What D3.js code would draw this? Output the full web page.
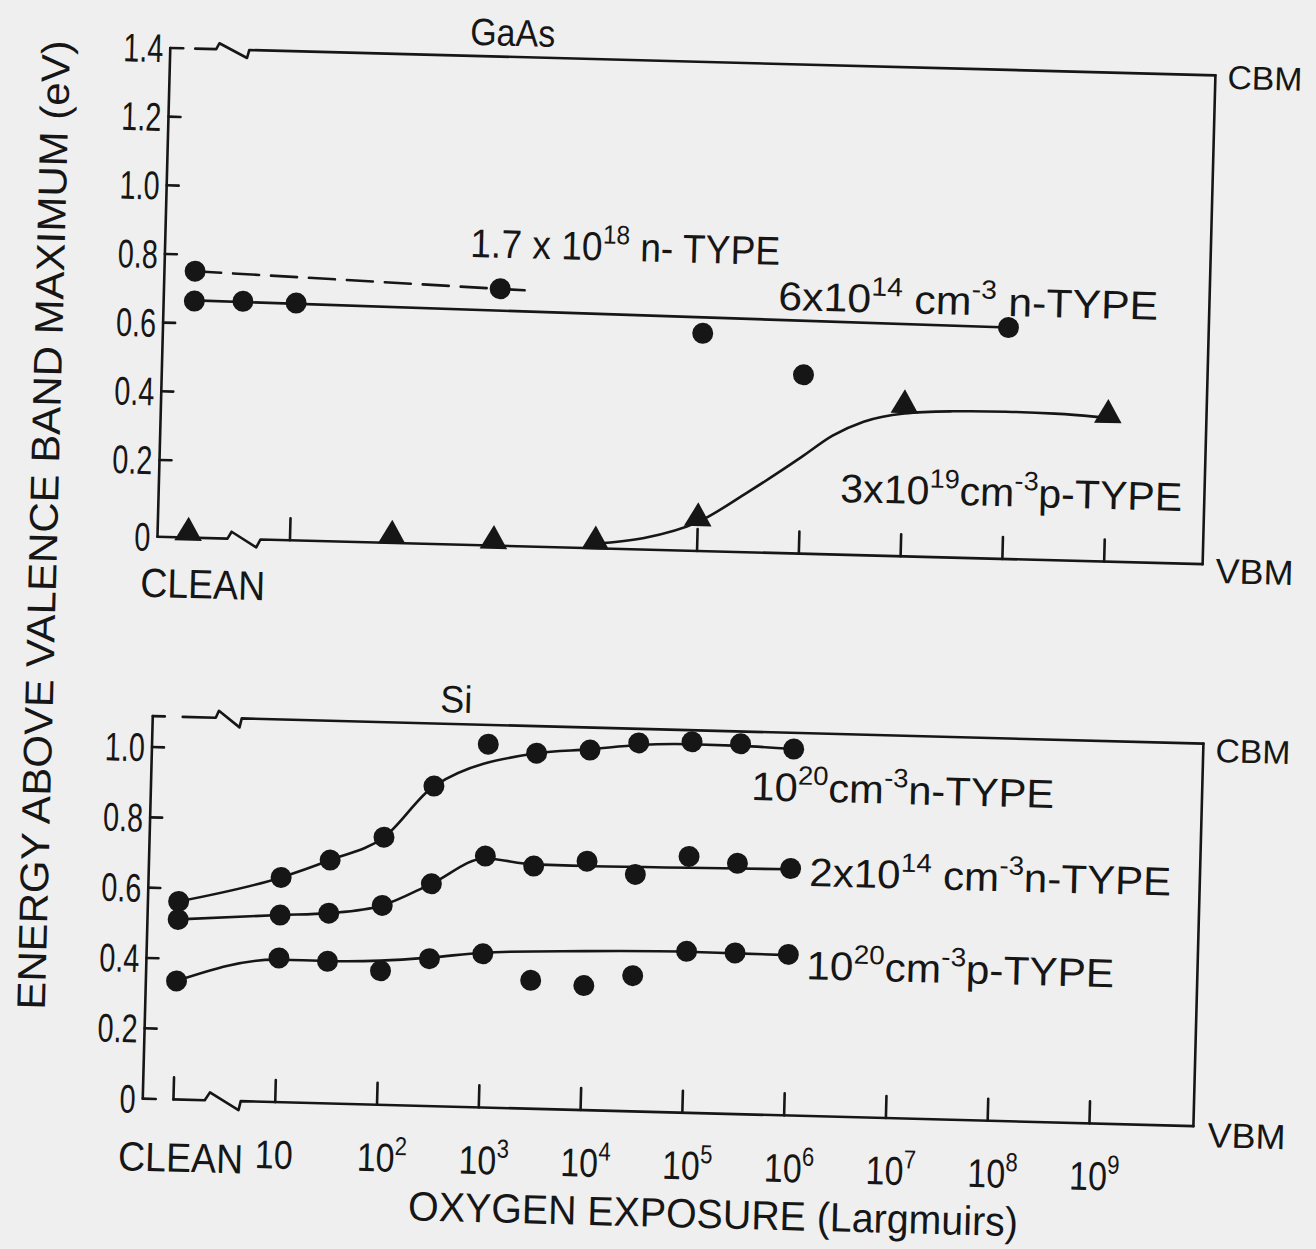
<!DOCTYPE html>
<html><head><meta charset="utf-8">
<script src="https://cdn.jsdelivr.net/npm/d3@7"></script>
<style>html,body{margin:0;padding:0;background:#efefef;} svg{display:block} text{white-space:pre}</style>
</head><body>
<svg id="chart" width="1316" height="1249"></svg>
<script>
// ================= DATA =================
const CLEAN = 1; // the clean surface is plotted where 1 L would sit on the log exposure axis

// x axis (oxygen exposure, Langmuirs)
const xTickExposures = [10, 1e2, 1e3, 1e4, 1e5, 1e6, 1e7, 1e8, 1e9];
const xTickExponents = ["", "2", "3", "4", "5", "6", "7", "8", "9"];
const gaasTickExposures = [10, 1e5, 1e6, 1e7, 1e8, 1e9];

// y axes (eV)
const gaasYTicks = [0, 0.2, 0.4, 0.6, 0.8, 1.0, 1.2, 1.4];
const gaasYTickLabels = ["0", "0.2", "0.4", "0.6", "0.8", "1.0", "1.2", "1.4"];
const siYTicks = [0, 0.2, 0.4, 0.6, 0.8, 1.0];
const siYTickLabels = ["0", "0.2", "0.4", "0.6", "0.8", "1.0"];

// ---- GaAs ----
const gaasN18Exposure = [CLEAN, 1e3];
const gaasN18Energy = [0.752, 0.724];
const gaasN18LineExposure = [CLEAN, 2e3];
const gaasN18LineEnergy = [0.752, 0.721];

const gaasN14Exposure = [CLEAN, 3, 10, 1e5, 1e6, 1e8];
const gaasN14Energy = [0.665, 0.668, 0.667, 0.610, 0.497, 0.650];
const gaasN14LineExposure = [CLEAN, 1e8];
const gaasN14LineEnergy = [0.667, 0.650];

const gaasP19Exposure = [CLEAN, 1e2, 1e3, 1e4, 1e5, 1e7, 1e9];
const gaasP19Energy = [0.013, 0.019, 0.012, 0.018, 0.085, 0.416, 0.403];
const gaasP19CurveExposure = [1e4, 3e4, 1e5, 3e5, 1e6, 2e6, 4e6, 1e7, 3e7, 1e8, 3e8, 1e9];
const gaasP19CurveEnergy = [0.012, 0.03, 0.075, 0.155, 0.257, 0.322, 0.365, 0.392, 0.402, 0.405, 0.403, 0.395];

// ---- Si ----
const siExposure = [CLEAN, 10, 30, 100, 300, 1e3, 3e3, 1e4, 3e4, 1e5, 3e5, 1e6];
const siN20Energy = [0.563, 0.639, 0.692, 0.761, 0.910, 1.033, 1.011, 1.024, 1.048, 1.055, 1.053, 1.042];
const siN20CurveExposure = [CLEAN, 10, 30, 100, 300, 3e3, 1e4, 3e4, 1e5, 3e5, 1e6];
const siN20CurveEnergy = [0.563, 0.639, 0.692, 0.761, 0.910, 1.011, 1.026, 1.042, 1.048, 1.047, 1.042];

const siN14Energy = [0.512, 0.532, 0.541, 0.567, 0.632, 0.715, 0.690, 0.708, 0.674, 0.729, 0.713, 0.702];
const siN14CurveExposure = [CLEAN, 10, 30, 100, 300, 1e3, 3e3, 1e4, 1e5, 1e6];
const siN14CurveEnergy = [0.512, 0.532, 0.541, 0.567, 0.632, 0.708, 0.695, 0.694, 0.697, 0.700];

const siP20Exposure = [CLEAN, 10, 30, 100, 300, 1e3, 3e3, 1e4, 3e4, 1e5, 3e5, 1e6];
const siP20Energy = [0.337, 0.410, 0.404, 0.381, 0.419, 0.437, 0.365, 0.354, 0.386, 0.459, 0.458, 0.458];
const siP20CurveExposure = [CLEAN, 10, 30, 100, 300, 1e3, 1e4, 1e5, 3e5, 1e6];
const siP20CurveEnergy = [0.337, 0.405, 0.405, 0.410, 0.422, 0.440, 0.452, 0.458, 0.457, 0.456];

// labels ([text, superscript?])
const gaasTitle = "GaAs";
const siTitle = "Si";
const gaasN18Label = [["1.7 x 10", 0], ["18", 1], [" n- TYPE", 0]];
const gaasN14Label = [["6x10", 0], ["14", 1], [" cm", 0], ["-3", 1], [" n-TYPE", 0]];
const gaasP19Label = [["3x10", 0], ["19", 1], ["cm", 0], ["-3", 1], ["p-TYPE", 0]];
const siN20Label = [["10", 0], ["20", 1], ["cm", 0], ["-3", 1], ["n-TYPE", 0]];
const siN14Label = [["2x10", 0], ["14", 1], [" cm", 0], ["-3", 1], ["n-TYPE", 0]];
const siP20Label = [["10", 0], ["20", 1], ["cm", 0], ["-3", 1], ["p-TYPE", 0]];
const xTitle = "OXYGEN EXPOSURE (Largmuirs)";
const yTitle = "ENERGY ABOVE VALENCE BAND MAXIMUM (eV)";

// ================= DRAWING =================
const INK = "#161616";
const FONT = "'Liberation Sans', Arial, sans-serif";
const svg = d3.select("#chart");
svg.append("rect").attr("width", 1316).attr("height", 1249).attr("fill", "#efefef");
// the scanned figure is slightly rotated
const root = svg.append("g").attr("transform", "rotate(1.5,680,600)");

const x = d3.scaleLog().domain([CLEAN, 1e9]).range([186.7, 1103]);
const yG = d3.scaleLinear().domain([0, 0.2, 1.4]).range([550.5, 473.6, 61.5]);
const yS = d3.scaleLinear().domain([0, 1]).range([1112.5, 760.8]);
const SI_TOP = 1.088;
const AXL_G = 156, RIGHT_G = 1201.5, AXL_S = 156, RIGHT_S = 1207;

const ink = (sel, w) => sel.attr("fill", "none").attr("stroke", INK).attr("stroke-width", w || 2.6)
  .attr("stroke-linejoin", "round").attr("stroke-linecap", "round");

function hline(g, x1, x2, yv) { ink(g.append("line").attr("x1", x1).attr("x2", x2).attr("y1", yv).attr("y2", yv)); }
function vline(g, xv, y1, y2) { ink(g.append("line").attr("x1", xv).attr("x2", xv).attr("y1", y1).attr("y2", y2)); }
// horizontal line with an axis-break zig-zag
function brokenLine(g, x1, xb, x2, yv, glyph) {
  const pts = [[x1, yv], [xb, yv]].concat(glyph.map(([dx, dy]) => [xb + dx, yv + dy])).concat([[x2, yv]]);
  ink(g.append("path").attr("d", d3.line()(pts)));
}

function addText(parent, px, py, parts, size, width, opts) {
  opts = opts || {};
  const g = parent.append("g").attr("transform", `translate(${px},${py})` + (opts.rotate ? ` rotate(${opts.rotate})` : ""));
  const t = g.append("text").attr("font-family", FONT).attr("font-size", size).attr("fill", INK)
    .attr("text-anchor", opts.anchor || "start");
  if (typeof parts === "string") parts = [[parts, 0]];
  const rise = size * 0.42;
  let prevSup = false;
  parts.forEach(([s, sup]) => {
    const ts = t.append("tspan").text(s);
    if (sup) { ts.attr("font-size", size * 0.66); if (!prevSup) ts.attr("dy", -rise); }
    else if (prevSup) ts.attr("dy", rise);
    prevSup = !!sup;
  });
  if (opts.dy) t.attr("dy", opts.dy);
  if (width) {
    const w = t.node().getBBox().width;
    t.attr("transform", `scale(${width / w},1)`);
  } else if (opts.sx) {
    t.attr("transform", `scale(${opts.sx},1)`);
  }
  return t;
}

// ---------- GaAs panel ----------
const gG = root.append("g");
vline(gG, AXL_G, yG(1.4), yG(0));
hline(gG, AXL_G, AXL_G + 13, yG(1.4));
brokenLine(gG, 181, 202, RIGHT_G, yG(1.4), [[3, -6], [31, 8], [33, 0]]);
brokenLine(gG, AXL_G, 226, RIGHT_G, yG(0), [[4, -7], [29, 8], [33, 0]]);
vline(gG, RIGHT_G, yG(1.4), yG(0));
gaasYTicks.filter(v => v > 0 && v < 1.4).forEach(v => hline(gG, AXL_G, AXL_G + 12, yG(v)));
gaasTickExposures.forEach(e => vline(gG, x(e), yG(0) - 22, yG(0)));
gaasYTicks.forEach((v, i) => addText(gG, AXL_G - 7, yG(v), gaasYTickLabels[i], 40, null, { anchor: "end", dy: "0.36em", sx: 0.72 }));

const lineGen = d3.line().x(d => x(d[0])).y(d => yG(d[1]));
ink(gG.append("path").attr("stroke-dasharray", "26 12").attr("stroke-linecap", "butt")
  .attr("d", lineGen(d3.zip(gaasN18LineExposure, gaasN18LineEnergy))));
ink(gG.append("path").attr("d", lineGen(d3.zip(gaasN14LineExposure, gaasN14LineEnergy))));
ink(gG.append("path").attr("d", d3.line().curve(d3.curveMonotoneX).x(d => x(d[0])).y(d => yG(d[1]))(d3.zip(gaasP19CurveExposure, gaasP19CurveEnergy))));

gG.selectAll(null).data(d3.zip(gaasN18Exposure, gaasN18Energy).concat(d3.zip(gaasN14Exposure, gaasN14Energy)))
  .join("circle").attr("cx", d => x(d[0])).attr("cy", d => yG(d[1])).attr("r", 10.5).attr("fill", INK);
const tri = d3.symbol(d3.symbolTriangle, 330);
gG.selectAll(null).data(d3.zip(gaasP19Exposure, gaasP19Energy)).join("path")
  .attr("d", tri).attr("transform", d => `translate(${x(d[0])},${yG(d[1])})`).attr("fill", INK);

addText(gG, 455.5, 50.5, gaasTitle, 38, 85);
addText(gG, 461, 262.5, gaasN18Label, 40, 310);
addText(gG, 770.4, 307.4, gaasN14Label, 40, 380);
addText(gG, 837.4, 497.8, gaasP19Label, 40, 342);
addText(gG, 140, 611, "CLEAN", 41, 125);
addText(gG, 1213.6, 74.7, "CBM", 33, 75);
addText(gG, 1214.6, 569, "VBM", 35, 78);

// ---------- Si panel ----------
const gS = root.append("g");
vline(gS, AXL_S, yS(SI_TOP), yS(0));
hline(gS, AXL_S, AXL_S + 12, yS(SI_TOP));
hline(gS, AXL_S, AXL_S + 13, yS(0));
brokenLine(gS, 186, 219, RIGHT_S, yS(SI_TOP), [[3, -7], [24, 9], [26, 0]]);
vline(gS, x(CLEAN), yS(0) - 22, yS(0));
brokenLine(gS, x(CLEAN), 218, RIGHT_S, yS(0), [[5, -8], [34, 9], [36, 0]]);
vline(gS, RIGHT_S, yS(SI_TOP), yS(0));
siYTicks.filter(v => v > 0).forEach(v => hline(gS, AXL_S, AXL_S + 12, yS(v)));
xTickExposures.forEach(e => vline(gS, x(e), yS(0) - 22, yS(0)));
siYTicks.forEach((v, i) => addText(gS, AXL_S - 7, yS(v), siYTickLabels[i], 40, null, { anchor: "end", dy: "0.36em", sx: 0.72 }));

// x tick labels
const TL = 40, TLY = 1179;
xTickExposures.forEach((e, i) => {
  if (xTickExponents[i] === "") {
    addText(gS, x(e), TLY, "10", TL, null, { anchor: "middle", sx: 0.85 });
  } else {
    const g = gS.append("g").attr("transform", `translate(${x(e)},${TLY}) scale(0.85,1)`);
    const t = g.append("text").attr("font-family", FONT).attr("font-size", TL).attr("fill", INK).attr("x", -0.556 * TL);
    t.append("tspan").text("10");
    t.append("tspan").text(xTickExponents[i]).attr("font-size", TL * 0.65).attr("dy", -TL * 0.42);
  }
});
addText(gS, 132.9, 1184.7, "CLEAN", 41, 125);

const curveS = d3.line().curve(d3.curveMonotoneX).x(d => x(d[0])).y(d => yS(d[1]));
ink(gS.append("path").attr("d", curveS(d3.zip(siN20CurveExposure, siN20CurveEnergy))));
ink(gS.append("path").attr("d", curveS(d3.zip(siN14CurveExposure, siN14CurveEnergy))));
ink(gS.append("path").attr("d", curveS(d3.zip(siP20CurveExposure, siP20CurveEnergy))));

const siPts = d3.zip(siExposure, siN20Energy)
  .concat(d3.zip(siExposure, siN14Energy))
  .concat(d3.zip(siP20Exposure, siP20Energy));
gS.selectAll(null).data(siPts).join("circle")
  .attr("cx", d => x(d[0])).attr("cy", d => yS(d[1])).attr("r", 10.5).attr("fill", INK);

addText(gS, 443, 718.3, siTitle, 38, 32);
addText(gS, 756.2, 798.1, siN20Label, 40, 303);
addText(gS, 816.5, 882.6, siN14Label, 40, 362);
addText(gS, 815.9, 975.7, siP20Label, 40, 308);
addText(gS, 1219.2, 748, "CBM", 33, 75);
addText(gS, 1221.3, 1133.2, "VBM", 35, 78);

// axis titles
addText(root, 424.2, 1227.1, xTitle, 41, 610);
addText(root, 55.7, 1026.6, yTitle, 40, 970, { rotate: -90 });
</script>
</body></html>
